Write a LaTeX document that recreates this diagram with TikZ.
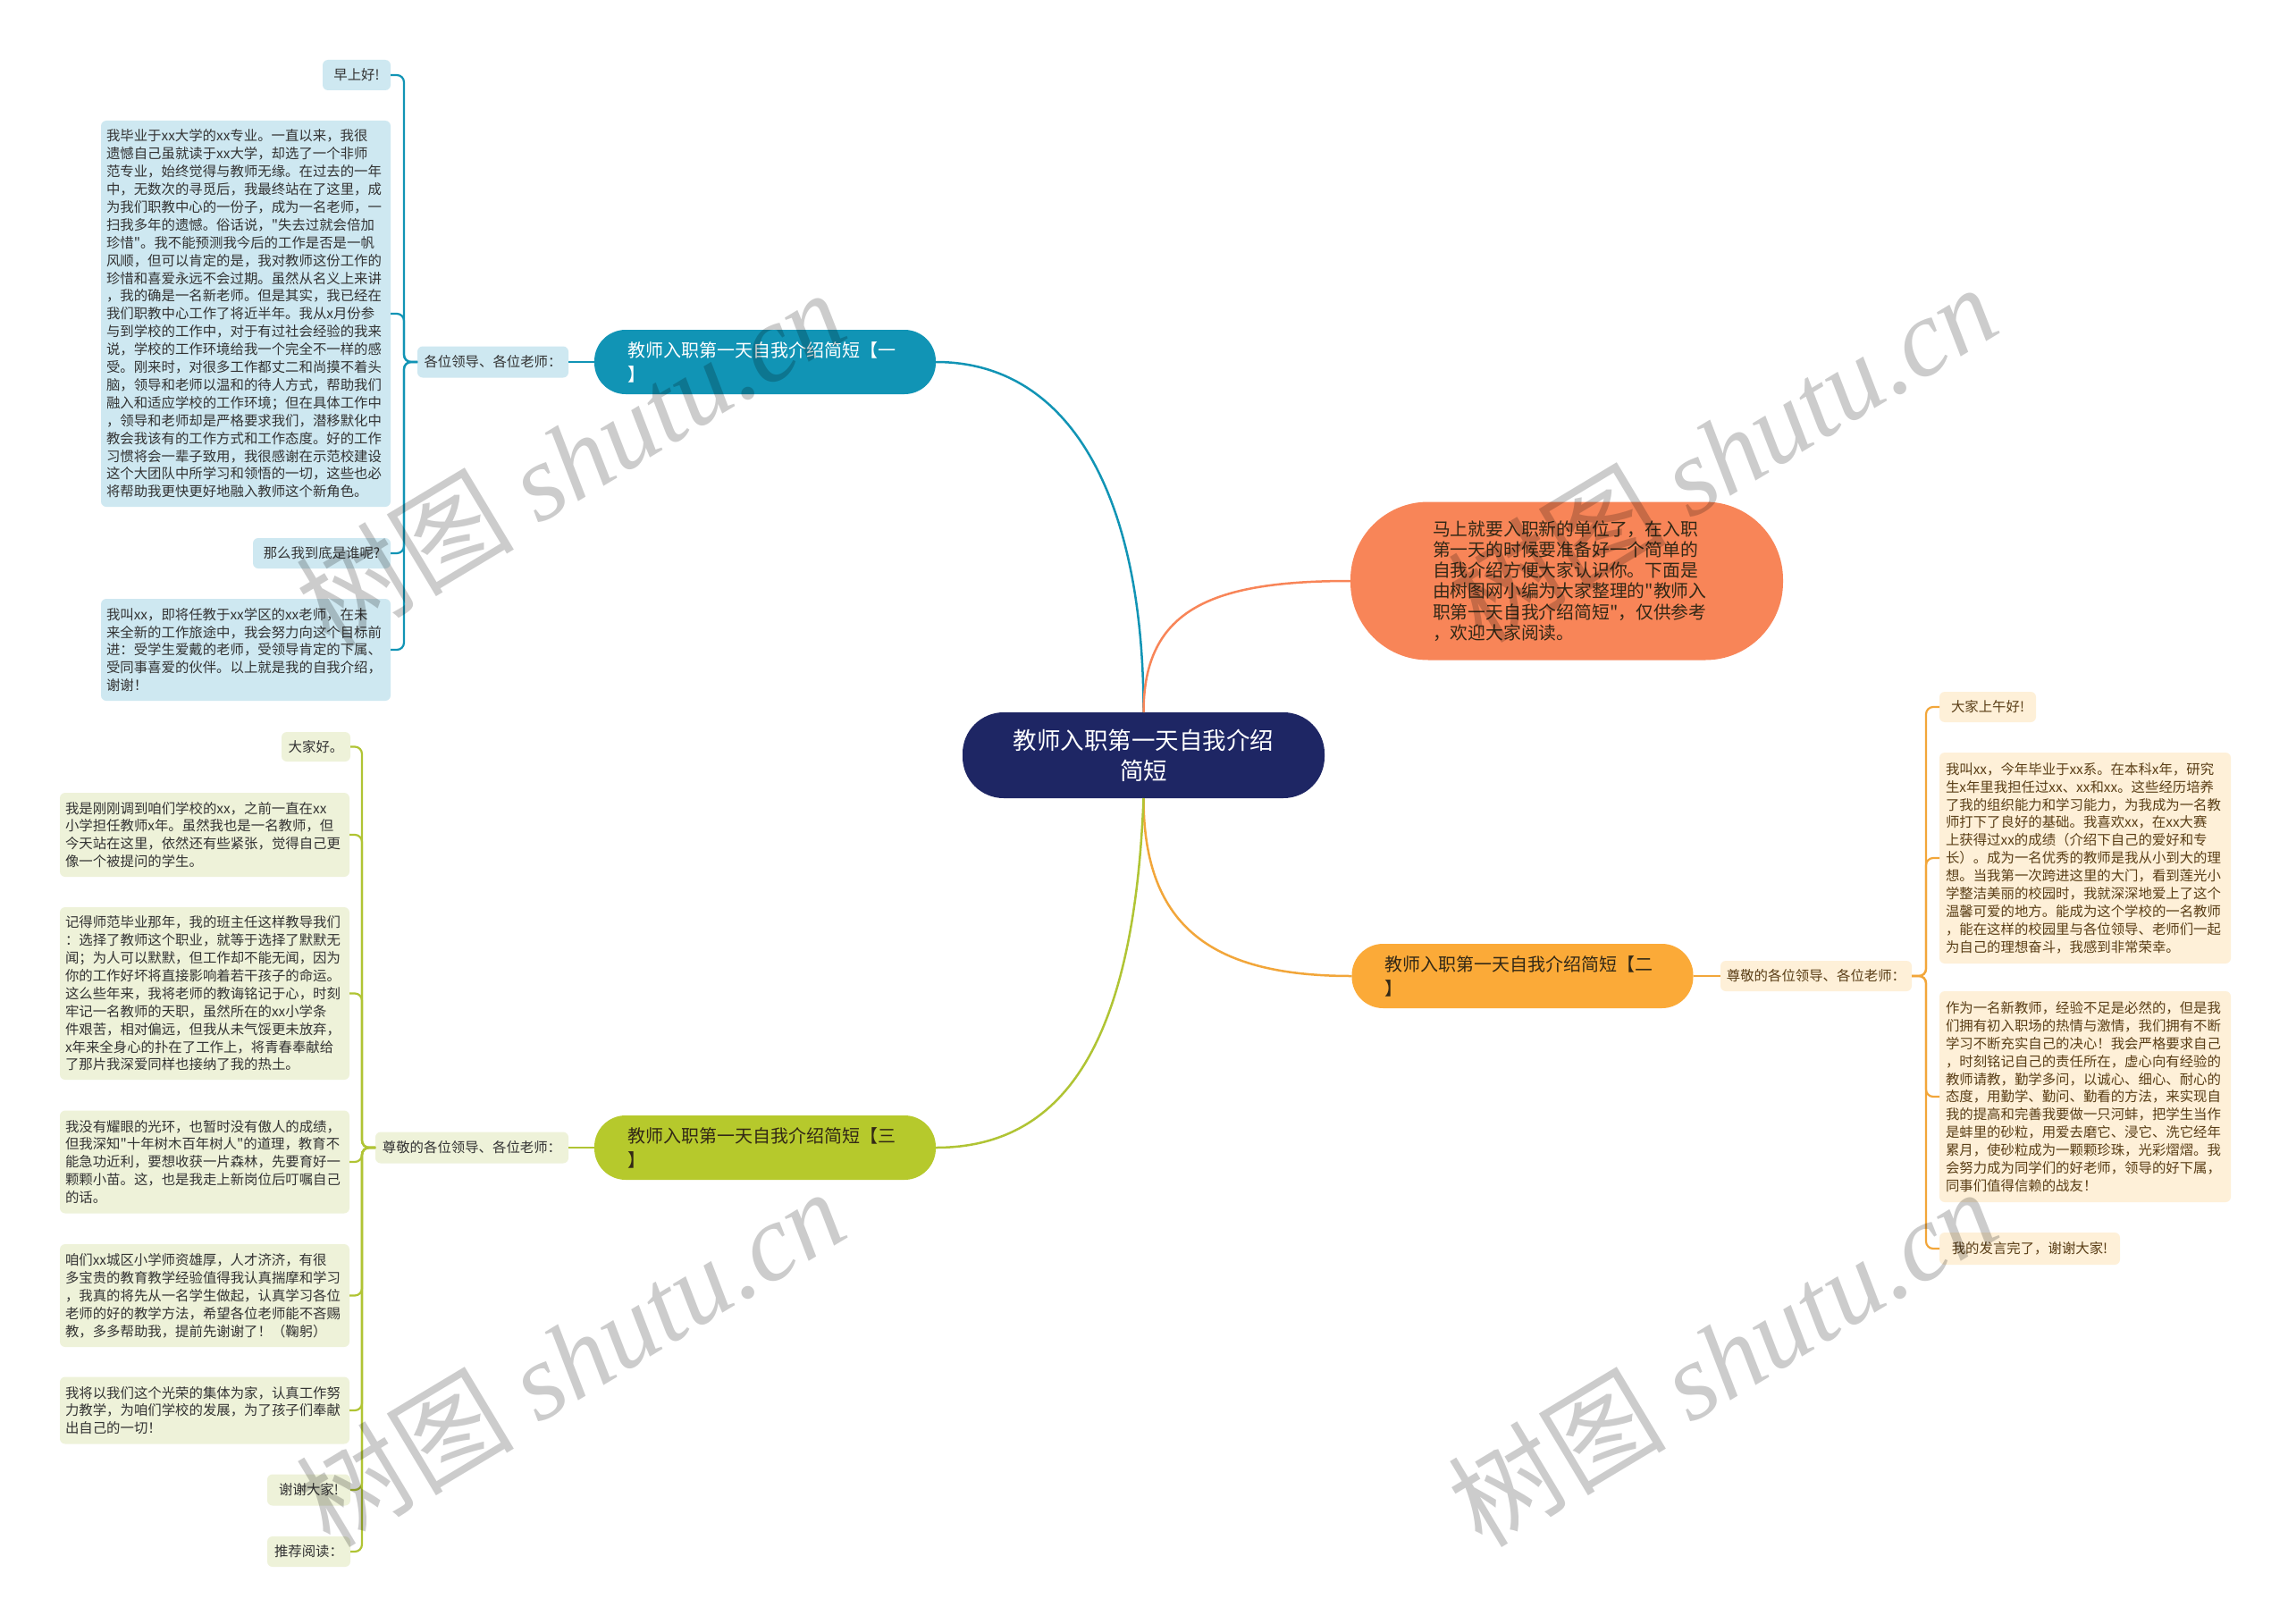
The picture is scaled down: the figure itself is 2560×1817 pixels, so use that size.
\documentclass[tikz,border=0pt]{standalone}
\usepackage{fontspec}
\setmainfont{Noto Sans CJK SC}[Ligatures=TeXOff]
\newfontfamily\wmserif{Liberation Serif}
\definecolor{navy}{RGB}{30,38,100}
\definecolor{tealc}{RGB}{17,148,181}
\definecolor{lblue}{RGB}{206,232,241}
\definecolor{coral}{RGB}{248,133,88}
\definecolor{orng}{RGB}{251,170,56}
\definecolor{orngline}{RGB}{242,166,58}
\definecolor{lorng}{RGB}{254,240,216}
\definecolor{grn}{RGB}{182,201,44}
\definecolor{grnline}{RGB}{176,196,52}
\definecolor{lgrn}{RGB}{238,242,217}
\definecolor{txtdark}{RGB}{51,51,51}
\definecolor{txtbrown}{RGB}{90,62,22}
\definecolor{txtbr}{RGB}{50,40,22}
\begin{document}
\begin{tikzpicture}[x=1pt,y=-1pt,
  every node/.style={inner sep=0pt, outer sep=0pt},
  smallbox/.style={rectangle, rounded corners=6pt, font=\fontsize{15.4}{19.9}\selectfont, align=left},
  bluebox/.style={smallbox, fill=lblue, text=txtdark},
  orbox/.style={smallbox, fill=lorng, text=txtbrown},
  grbox/.style={smallbox, fill=lgrn, text=txtdark},
  branchnode/.style={rectangle, rounded corners=35pt, minimum width=382pt, minimum height=72pt, text width=308pt, align=left, font=\fontsize{20}{27}\selectfont},
  mainline/.style={line width=2.5pt},
  brkline/.style={line width=2.2pt, rounded corners=8pt},
  wmark/.style={rotate=31, text=black, text opacity=0.2, font=\fontsize{122}{122}\selectfont}
]
\useasboundingbox (0,0) rectangle (2560,1817);
\fill[white] (0,0) rectangle (2560,1817);

% central
\node[fill=navy, text=white, rounded corners=46pt, minimum width=405pt, minimum height=96pt, align=center, font=\fontsize{26.5}{34}\selectfont] (c) at (1279.5,845) {教师入职第一天自我介绍\\简短};

% intro bubble
\node[fill=coral, text=txtbr, rounded corners=87pt, minimum width=484pt, minimum height=177pt, text width=300pt, align=left, font=\fontsize{19.8}{23.3}\selectfont] (intro) at (1753,650) {马上就要入职新的单位了，在入职\\第一天的时候要准备好一个简单的\\自我介绍方便大家认识你。下面是\\由树图网小编为大家整理的"教师入\\职第一天自我介绍简短"，仅供参考\\，欢迎大家阅读。};

% branch 1
\node[branchnode, fill=tealc, text=white] (b1) at (856,405) {教师入职第一天自我介绍简短【一\\】};
\node[bluebox, minimum width=169pt, minimum height=35pt] (l1) at (551.5,405) {各位领导、各位老师：};
\node[bluebox, minimum width=76pt, minimum height=34pt] (b1a) at (399,84) {早上好!};
\node[bluebox, minimum width=324pt, minimum height=432pt, text width=312pt] (b1b) at (275,351) {我毕业于xx大学的xx专业。一直以来，我很\\
遗憾自己虽就读于xx大学，却选了一个非师\\
范专业，始终觉得与教师无缘。在过去的一年\\
中，无数次的寻觅后，我最终站在了这里，成\\
为我们职教中心的一份子，成为一名老师，一\\
扫我多年的遗憾。俗话说，"失去过就会倍加\\
珍惜"。我不能预测我今后的工作是否是一帆\\
风顺，但可以肯定的是，我对教师这份工作的\\
珍惜和喜爱永远不会过期。虽然从名义上来讲\\
，我的确是一名新老师。但是其实，我已经在\\
我们职教中心工作了将近半年。我从x月份参\\
与到学校的工作中，对于有过社会经验的我来\\
说，学校的工作环境给我一个完全不一样的感\\
受。刚来时，对很多工作都丈二和尚摸不着头\\
脑，领导和老师以温和的待人方式，帮助我们\\
融入和适应学校的工作环境；但在具体工作中\\
，领导和老师却是严格要求我们，潜移默化中\\
教会我该有的工作方式和工作态度。好的工作\\
习惯将会一辈子致用，我很感谢在示范校建设\\
这个大团队中所学习和领悟的一切，这些也必\\
将帮助我更快更好地融入教师这个新角色。};
\node[bluebox, minimum width=154pt, minimum height=34pt] (b1c) at (360,619) {那么我到底是谁呢?};
\node[bluebox, minimum width=324pt, minimum height=114pt, text width=312pt] (b1d) at (275,727) {我叫xx，即将任教于xx学区的xx老师，在未\\
来全新的工作旅途中，我会努力向这个目标前\\
进：受学生爱戴的老师，受领导肯定的下属、\\
受同事喜爱的伙伴。以上就是我的自我介绍，\\
谢谢！};

% branch 2
\node[branchnode, fill=orng, text=txtbr] (b2) at (1703.5,1092) {教师入职第一天自我介绍简短【二\\】};
\node[orbox, minimum width=214pt, minimum height=34pt] (l2) at (2032,1092) {尊敬的各位领导、各位老师：};
\node[orbox, minimum width=108pt, minimum height=34pt] (b2a) at (2224,791) {大家上午好!};
\node[orbox, minimum width=326pt, minimum height=236pt, text width=312pt] (b2b) at (2333,960) {我叫xx，今年毕业于xx系。在本科x年，研究\\
生x年里我担任过xx、xx和xx。这些经历培养\\
了我的组织能力和学习能力，为我成为一名教\\
师打下了良好的基础。我喜欢xx，在xx大赛\\
上获得过xx的成绩（介绍下自己的爱好和专\\
长）。成为一名优秀的教师是我从小到大的理\\
想。当我第一次跨进这里的大门，看到莲光小\\
学整洁美丽的校园时，我就深深地爱上了这个\\
温馨可爱的地方。能成为这个学校的一名教师\\
，能在这样的校园里与各位领导、老师们一起\\
为自己的理想奋斗，我感到非常荣幸。};
\node[orbox, minimum width=326pt, minimum height=236pt, text width=312pt] (b2c) at (2333,1227) {作为一名新教师，经验不足是必然的，但是我\\
们拥有初入职场的热情与激情，我们拥有不断\\
学习不断充实自己的决心！我会严格要求自己\\
，时刻铭记自己的责任所在，虚心向有经验的\\
教师请教，勤学多问，以诚心、细心、耐心的\\
态度，用勤学、勤问、勤看的方法，来实现自\\
我的提高和完善我要做一只河蚌，把学生当作\\
是蚌里的砂粒，用爱去磨它、浸它、洗它经年\\
累月，使砂粒成为一颗颗珍珠，光彩熠熠。我\\
会努力成为同学们的好老师，领导的好下属，\\
同事们值得信赖的战友！};
\node[orbox, minimum width=202pt, minimum height=36pt] (b2d) at (2271,1397) {我的发言完了，谢谢大家!};

% branch 3
\node[branchnode, fill=grn, text=txtbr] (b3) at (856,1284) {教师入职第一天自我介绍简短【三\\】};
\node[grbox, minimum width=216pt, minimum height=35pt] (l3) at (528,1284) {尊敬的各位领导、各位老师：};
\node[grbox, minimum width=77pt, minimum height=33pt] (b3a) at (353.5,835.5) {大家好。};
\node[grbox, minimum width=324pt, minimum height=94pt, text width=312pt] (b3b) at (229,934) {我是刚刚调到咱们学校的xx，之前一直在xx\\
小学担任教师x年。虽然我也是一名教师，但\\
今天站在这里，依然还有些紧张，觉得自己更\\
像一个被提问的学生。};
\node[grbox, minimum width=324pt, minimum height=193pt, text width=312pt] (b3c) at (229,1111.5) {记得师范毕业那年，我的班主任这样教导我们\\
：选择了教师这个职业，就等于选择了默默无\\
闻；为人可以默默，但工作却不能无闻，因为\\
你的工作好坏将直接影响着若干孩子的命运。\\
这么些年来，我将老师的教诲铭记于心，时刻\\
牢记一名教师的天职，虽然所在的xx小学条\\
件艰苦，相对偏远，但我从未气馁更未放弃，\\
x年来全身心的扑在了工作上，将青春奉献给\\
了那片我深爱同样也接纳了我的热土。};
\node[grbox, minimum width=324pt, minimum height=115pt, text width=312pt] (b3d) at (229,1300) {我没有耀眼的光环，也暂时没有傲人的成绩，\\
但我深知"十年树木百年树人"的道理，教育不\\
能急功近利，要想收获一片森林，先要育好一\\
颗颗小苗。这，也是我走上新岗位后叮嘱自己\\
的话。};
\node[grbox, minimum width=324pt, minimum height=115pt, text width=312pt] (b3e) at (229,1449.5) {咱们xx城区小学师资雄厚，人才济济，有很\\
多宝贵的教育教学经验值得我认真揣摩和学习\\
，我真的将先从一名学生做起，认真学习各位\\
老师的好的教学方法，希望各位老师能不吝赐\\
教，多多帮助我，提前先谢谢了！（鞠躬）};
\node[grbox, minimum width=324pt, minimum height=75pt, text width=312pt] (b3f) at (229,1578) {我将以我们这个光荣的集体为家，认真工作努\\
力教学，为咱们学校的发展，为了孩子们奉献\\
出自己的一切！};
\node[grbox, minimum width=93pt, minimum height=35pt] (b3g) at (345.5,1667) {谢谢大家!};
\node[grbox, minimum width=93pt, minimum height=34pt] (b3h) at (345.5,1736) {推荐阅读：};

% main connectors
\draw[mainline, tealc] (b1.east) .. controls +(153,0) and +(0,-237) .. (c.north);
\draw[mainline, coral] (c.north) .. controls +(0,-117) and +(-153,0) .. (intro.west);
\draw[mainline, orngline] (c.south) .. controls +(0,147) and +(-153,0) .. (b2.west);
\draw[mainline, grnline] (c.south) .. controls +(-10,257) and +(153,0) .. (b3.east);

% branch to label
\draw[brkline, tealc] (b1.west) -- (l1.east);
\draw[brkline, orngline] (b2.east) -- (l2.west);
\draw[brkline, grnline] (b3.west) -- (l3.east);

% brackets
\foreach \n in {b1a,b1b,b1c,b1d}
  \draw[brkline, tealc] (l1.west) -- ++(-15,0) |- (\n.east);
\foreach \n in {b2a,b2b,b2c,b2d}
  \draw[brkline, orngline] (l2.east) -- ++(16,0) |- (\n.west);
\foreach \n in {b3a,b3b,b3c,b3d,b3e,b3f,b3g,b3h}
  \draw[brkline, grnline] (l3.west) -- ++(-15,0) |- (\n.east);

% watermarks
\node[wmark] (w1) at (638,512) {树图 {\wmserif\itshape shutu.cn}};
\node[wmark] (w2) at (1927,506) {树图 {\wmserif\itshape shutu.cn}};
\node[wmark] (w3) at (638,1518) {树图 {\wmserif\itshape shutu.cn}};
\node[wmark] (w4) at (1927,1518) {树图 {\wmserif\itshape shutu.cn}};
\end{tikzpicture}
\end{document}
